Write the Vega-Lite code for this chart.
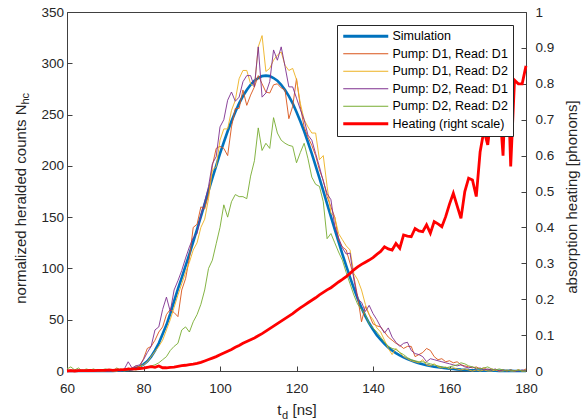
{
"$schema":"https://vega.github.io/schema/vega-lite/v6.json",
"width":459,"height":359,
"autosize":{"type":"none"},
"padding":{"left":67,"top":12,"right":61,"bottom":49},
"config":{"font":"Liberation Sans","view":{"stroke":"#404040","strokeWidth":1},
"axis":{"grid":false,"labelFlush":false,"labelOverlap":false,"domainColor":"#404040","tickColor":"#404040","labelColor":"#262626","titleColor":"#262626","labelFontSize":13.5,"titleFontSize":15,"titleFontWeight":"normal","labelFont":"Liberation Sans","titleFont":"Liberation Sans"}},
"data":{"values":[
{"t":60,"s":"S","v":0},{"t":61,"s":"S","v":0},{"t":62,"s":"S","v":0},{"t":63,"s":"S","v":0},{"t":64,"s":"S","v":0},{"t":65,"s":"S","v":0},{"t":66,"s":"S","v":0},{"t":67,"s":"S","v":0},{"t":68,"s":"S","v":0},{"t":69,"s":"S","v":0},{"t":70,"s":"S","v":0},{"t":71,"s":"S","v":0},{"t":72,"s":"S","v":0.1},{"t":73,"s":"S","v":0.2},{"t":74,"s":"S","v":0.4},{"t":75,"s":"S","v":0.7},{"t":76,"s":"S","v":1.1},{"t":77,"s":"S","v":1.8},{"t":78,"s":"S","v":2.8},{"t":79,"s":"S","v":4.3},{"t":80,"s":"S","v":6.5},{"t":81,"s":"S","v":9.5},{"t":82,"s":"S","v":14},{"t":83,"s":"S","v":20},{"t":84,"s":"S","v":27},{"t":85,"s":"S","v":36},{"t":86,"s":"S","v":45},{"t":87,"s":"S","v":56},{"t":88,"s":"S","v":68},{"t":89,"s":"S","v":80},{"t":90,"s":"S","v":91},{"t":91,"s":"S","v":102.4},{"t":92,"s":"S","v":114},{"t":93,"s":"S","v":126},{"t":94,"s":"S","v":138},{"t":95,"s":"S","v":150.5},{"t":96,"s":"S","v":163},{"t":97,"s":"S","v":175.7},{"t":98,"s":"S","v":188},{"t":99,"s":"S","v":200},{"t":100,"s":"S","v":212},{"t":101,"s":"S","v":223},{"t":102,"s":"S","v":233.7},{"t":103,"s":"S","v":243.5},{"t":104,"s":"S","v":252.6},{"t":105,"s":"S","v":261},{"t":106,"s":"S","v":268},{"t":107,"s":"S","v":274},{"t":108,"s":"S","v":279},{"t":109,"s":"S","v":283},{"t":110,"s":"S","v":285.6},{"t":111,"s":"S","v":287.5},{"t":112,"s":"S","v":288},{"t":113,"s":"S","v":287.5},{"t":114,"s":"S","v":285.6},{"t":115,"s":"S","v":283},{"t":116,"s":"S","v":279},{"t":117,"s":"S","v":274},{"t":118,"s":"S","v":268},{"t":119,"s":"S","v":261},{"t":120,"s":"S","v":252.6},{"t":121,"s":"S","v":243.5},{"t":122,"s":"S","v":233.7},{"t":123,"s":"S","v":223},{"t":124,"s":"S","v":212},{"t":125,"s":"S","v":200},{"t":126,"s":"S","v":188},{"t":127,"s":"S","v":175.7},{"t":128,"s":"S","v":163},{"t":129,"s":"S","v":150.5},{"t":130,"s":"S","v":138},{"t":131,"s":"S","v":126},{"t":132,"s":"S","v":114},{"t":133,"s":"S","v":102.4},{"t":134,"s":"S","v":91.2},{"t":135,"s":"S","v":80.5},{"t":136,"s":"S","v":70.5},{"t":137,"s":"S","v":61.5},{"t":138,"s":"S","v":53.5},{"t":139,"s":"S","v":46.5},{"t":140,"s":"S","v":40.5},{"t":141,"s":"S","v":35},{"t":142,"s":"S","v":30.5},{"t":143,"s":"S","v":26.5},{"t":144,"s":"S","v":23},{"t":145,"s":"S","v":20},{"t":146,"s":"S","v":17.4},{"t":147,"s":"S","v":15.2},{"t":148,"s":"S","v":13.3},{"t":149,"s":"S","v":11.6},{"t":150,"s":"S","v":10.1},{"t":151,"s":"S","v":8.8},{"t":152,"s":"S","v":7.6},{"t":153,"s":"S","v":6.6},{"t":154,"s":"S","v":5.7},{"t":155,"s":"S","v":4.9},{"t":156,"s":"S","v":4.2},{"t":157,"s":"S","v":3.6},{"t":158,"s":"S","v":3.1},{"t":159,"s":"S","v":2.6},{"t":160,"s":"S","v":2.2},{"t":161,"s":"S","v":1.9},{"t":162,"s":"S","v":1.6},{"t":163,"s":"S","v":1.3},{"t":164,"s":"S","v":1.1},{"t":165,"s":"S","v":0.9},{"t":166,"s":"S","v":0.8},{"t":167,"s":"S","v":0.6},{"t":168,"s":"S","v":0.5},{"t":169,"s":"S","v":0.4},{"t":170,"s":"S","v":0.3},{"t":171,"s":"S","v":0.25},{"t":172,"s":"S","v":0.2},{"t":173,"s":"S","v":0.15},{"t":174,"s":"S","v":0.1},{"t":175,"s":"S","v":0.1},{"t":176,"s":"S","v":0.1},{"t":177,"s":"S","v":0.05},{"t":178,"s":"S","v":0.05},{"t":179,"s":"S","v":0.05},{"t":180,"s":"S","v":0.05},
{"t":60,"s":"A","v":0},{"t":61,"s":"A","v":1},{"t":62,"s":"A","v":0},{"t":63,"s":"A","v":0},{"t":64,"s":"A","v":1},{"t":65,"s":"A","v":0},{"t":66,"s":"A","v":0},{"t":67,"s":"A","v":1},{"t":68,"s":"A","v":0},{"t":69,"s":"A","v":0},{"t":70,"s":"A","v":1},{"t":71,"s":"A","v":0},{"t":72,"s":"A","v":1},{"t":73,"s":"A","v":0},{"t":74,"s":"A","v":2},{"t":75,"s":"A","v":1},{"t":76,"s":"A","v":3},{"t":77,"s":"A","v":2},{"t":78,"s":"A","v":5},{"t":79,"s":"A","v":4},{"t":80,"s":"A","v":12},{"t":81,"s":"A","v":22},{"t":82,"s":"A","v":24},{"t":83,"s":"A","v":30},{"t":84,"s":"A","v":38},{"t":85,"s":"A","v":43},{"t":86,"s":"A","v":55},{"t":87,"s":"A","v":60},{"t":88,"s":"A","v":57},{"t":89,"s":"A","v":53},{"t":90,"s":"A","v":79},{"t":91,"s":"A","v":90},{"t":92,"s":"A","v":110},{"t":93,"s":"A","v":140},{"t":94,"s":"A","v":143},{"t":95,"s":"A","v":160},{"t":96,"s":"A","v":158},{"t":97,"s":"A","v":172},{"t":98,"s":"A","v":200},{"t":99,"s":"A","v":217},{"t":100,"s":"A","v":219},{"t":101,"s":"A","v":217},{"t":102,"s":"A","v":210},{"t":103,"s":"A","v":238},{"t":104,"s":"A","v":256},{"t":105,"s":"A","v":256},{"t":106,"s":"A","v":274},{"t":107,"s":"A","v":259},{"t":108,"s":"A","v":269},{"t":109,"s":"A","v":277},{"t":110,"s":"A","v":288},{"t":111,"s":"A","v":280},{"t":112,"s":"A","v":272},{"t":113,"s":"A","v":271},{"t":114,"s":"A","v":279},{"t":115,"s":"A","v":280},{"t":116,"s":"A","v":276},{"t":117,"s":"A","v":274},{"t":118,"s":"A","v":246},{"t":119,"s":"A","v":258},{"t":120,"s":"A","v":285},{"t":121,"s":"A","v":258},{"t":122,"s":"A","v":238},{"t":123,"s":"A","v":228},{"t":124,"s":"A","v":220},{"t":125,"s":"A","v":210},{"t":126,"s":"A","v":196},{"t":127,"s":"A","v":186},{"t":128,"s":"A","v":170},{"t":129,"s":"A","v":160},{"t":130,"s":"A","v":150},{"t":131,"s":"A","v":128},{"t":132,"s":"A","v":121},{"t":133,"s":"A","v":118},{"t":134,"s":"A","v":105},{"t":135,"s":"A","v":92},{"t":136,"s":"A","v":72},{"t":137,"s":"A","v":48},{"t":138,"s":"A","v":63},{"t":139,"s":"A","v":55},{"t":140,"s":"A","v":46},{"t":141,"s":"A","v":44},{"t":142,"s":"A","v":43},{"t":143,"s":"A","v":38},{"t":144,"s":"A","v":33},{"t":145,"s":"A","v":30},{"t":146,"s":"A","v":27},{"t":147,"s":"A","v":25},{"t":148,"s":"A","v":22},{"t":149,"s":"A","v":24},{"t":150,"s":"A","v":24},{"t":151,"s":"A","v":14},{"t":152,"s":"A","v":16},{"t":153,"s":"A","v":18},{"t":154,"s":"A","v":22},{"t":155,"s":"A","v":20},{"t":156,"s":"A","v":14},{"t":157,"s":"A","v":11},{"t":158,"s":"A","v":12},{"t":159,"s":"A","v":9},{"t":160,"s":"A","v":10},{"t":161,"s":"A","v":8},{"t":162,"s":"A","v":9},{"t":163,"s":"A","v":6},{"t":164,"s":"A","v":5},{"t":165,"s":"A","v":4},{"t":166,"s":"A","v":3},{"t":167,"s":"A","v":4},{"t":168,"s":"A","v":2},{"t":169,"s":"A","v":3},{"t":170,"s":"A","v":1},{"t":171,"s":"A","v":2},{"t":172,"s":"A","v":1},{"t":173,"s":"A","v":0},{"t":174,"s":"A","v":1},{"t":175,"s":"A","v":0},{"t":176,"s":"A","v":1},{"t":177,"s":"A","v":0},{"t":178,"s":"A","v":1},{"t":179,"s":"A","v":0},{"t":180,"s":"A","v":2},
{"t":60,"s":"B","v":0},{"t":61,"s":"B","v":0},{"t":62,"s":"B","v":1},{"t":63,"s":"B","v":0},{"t":64,"s":"B","v":0},{"t":65,"s":"B","v":1},{"t":66,"s":"B","v":0},{"t":67,"s":"B","v":0},{"t":68,"s":"B","v":1},{"t":69,"s":"B","v":0},{"t":70,"s":"B","v":0},{"t":71,"s":"B","v":1},{"t":72,"s":"B","v":0},{"t":73,"s":"B","v":0},{"t":74,"s":"B","v":1},{"t":75,"s":"B","v":2},{"t":76,"s":"B","v":1},{"t":77,"s":"B","v":3},{"t":78,"s":"B","v":2},{"t":79,"s":"B","v":4},{"t":80,"s":"B","v":6},{"t":81,"s":"B","v":9},{"t":82,"s":"B","v":14},{"t":83,"s":"B","v":19},{"t":84,"s":"B","v":24},{"t":85,"s":"B","v":30},{"t":86,"s":"B","v":40},{"t":87,"s":"B","v":50},{"t":88,"s":"B","v":62},{"t":89,"s":"B","v":74},{"t":90,"s":"B","v":85},{"t":91,"s":"B","v":96},{"t":92,"s":"B","v":106},{"t":93,"s":"B","v":118},{"t":94,"s":"B","v":125},{"t":95,"s":"B","v":140},{"t":96,"s":"B","v":148},{"t":97,"s":"B","v":168},{"t":98,"s":"B","v":196},{"t":99,"s":"B","v":199},{"t":100,"s":"B","v":225},{"t":101,"s":"B","v":236},{"t":102,"s":"B","v":236},{"t":103,"s":"B","v":254},{"t":104,"s":"B","v":264},{"t":105,"s":"B","v":285},{"t":106,"s":"B","v":293},{"t":107,"s":"B","v":293},{"t":108,"s":"B","v":280},{"t":109,"s":"B","v":277},{"t":110,"s":"B","v":316},{"t":111,"s":"B","v":327},{"t":112,"s":"B","v":292},{"t":113,"s":"B","v":295},{"t":114,"s":"B","v":303},{"t":115,"s":"B","v":308},{"t":116,"s":"B","v":311},{"t":117,"s":"B","v":298},{"t":118,"s":"B","v":293},{"t":119,"s":"B","v":295},{"t":120,"s":"B","v":284},{"t":121,"s":"B","v":261},{"t":122,"s":"B","v":245},{"t":123,"s":"B","v":238},{"t":124,"s":"B","v":232},{"t":125,"s":"B","v":232},{"t":126,"s":"B","v":206},{"t":127,"s":"B","v":210},{"t":128,"s":"B","v":180},{"t":129,"s":"B","v":154},{"t":130,"s":"B","v":150},{"t":131,"s":"B","v":134},{"t":132,"s":"B","v":128},{"t":133,"s":"B","v":122},{"t":134,"s":"B","v":118},{"t":135,"s":"B","v":95},{"t":136,"s":"B","v":89},{"t":137,"s":"B","v":79},{"t":138,"s":"B","v":65},{"t":139,"s":"B","v":55},{"t":140,"s":"B","v":50},{"t":141,"s":"B","v":42},{"t":142,"s":"B","v":38},{"t":143,"s":"B","v":30},{"t":144,"s":"B","v":22},{"t":145,"s":"B","v":16},{"t":146,"s":"B","v":22},{"t":147,"s":"B","v":18},{"t":148,"s":"B","v":14},{"t":149,"s":"B","v":12},{"t":150,"s":"B","v":10},{"t":151,"s":"B","v":9},{"t":152,"s":"B","v":8},{"t":153,"s":"B","v":11},{"t":154,"s":"B","v":6},{"t":155,"s":"B","v":5},{"t":156,"s":"B","v":7},{"t":157,"s":"B","v":4},{"t":158,"s":"B","v":3},{"t":159,"s":"B","v":4},{"t":160,"s":"B","v":2},{"t":161,"s":"B","v":3},{"t":162,"s":"B","v":2},{"t":163,"s":"B","v":1},{"t":164,"s":"B","v":2},{"t":165,"s":"B","v":1},{"t":166,"s":"B","v":0},{"t":167,"s":"B","v":1},{"t":168,"s":"B","v":0},{"t":169,"s":"B","v":1},{"t":170,"s":"B","v":0},{"t":171,"s":"B","v":0},{"t":172,"s":"B","v":1},{"t":173,"s":"B","v":0},{"t":174,"s":"B","v":0},{"t":175,"s":"B","v":1},{"t":176,"s":"B","v":0},{"t":177,"s":"B","v":0},{"t":178,"s":"B","v":1},{"t":179,"s":"B","v":0},{"t":180,"s":"B","v":0},
{"t":60,"s":"C","v":0},{"t":61,"s":"C","v":0},{"t":62,"s":"C","v":0},{"t":63,"s":"C","v":1},{"t":64,"s":"C","v":0},{"t":65,"s":"C","v":0},{"t":66,"s":"C","v":1},{"t":67,"s":"C","v":0},{"t":68,"s":"C","v":0},{"t":69,"s":"C","v":1},{"t":70,"s":"C","v":0},{"t":71,"s":"C","v":0},{"t":72,"s":"C","v":1},{"t":73,"s":"C","v":1},{"t":74,"s":"C","v":0},{"t":75,"s":"C","v":2},{"t":76,"s":"C","v":9},{"t":77,"s":"C","v":3},{"t":78,"s":"C","v":5},{"t":79,"s":"C","v":6},{"t":80,"s":"C","v":11},{"t":81,"s":"C","v":18},{"t":82,"s":"C","v":24},{"t":83,"s":"C","v":40},{"t":84,"s":"C","v":43},{"t":85,"s":"C","v":60},{"t":86,"s":"C","v":72},{"t":87,"s":"C","v":58},{"t":88,"s":"C","v":79},{"t":89,"s":"C","v":88},{"t":90,"s":"C","v":98},{"t":91,"s":"C","v":110},{"t":92,"s":"C","v":121},{"t":93,"s":"C","v":130},{"t":94,"s":"C","v":134},{"t":95,"s":"C","v":152},{"t":96,"s":"C","v":165},{"t":97,"s":"C","v":180},{"t":98,"s":"C","v":202},{"t":99,"s":"C","v":209},{"t":100,"s":"C","v":238},{"t":101,"s":"C","v":245},{"t":102,"s":"C","v":264},{"t":103,"s":"C","v":272},{"t":104,"s":"C","v":263},{"t":105,"s":"C","v":267},{"t":106,"s":"C","v":282},{"t":107,"s":"C","v":288},{"t":108,"s":"C","v":288},{"t":109,"s":"C","v":277},{"t":110,"s":"C","v":316},{"t":111,"s":"C","v":267},{"t":112,"s":"C","v":271},{"t":113,"s":"C","v":282},{"t":114,"s":"C","v":313},{"t":115,"s":"C","v":303},{"t":116,"s":"C","v":316},{"t":117,"s":"C","v":297},{"t":118,"s":"C","v":277},{"t":119,"s":"C","v":277},{"t":120,"s":"C","v":266},{"t":121,"s":"C","v":255},{"t":122,"s":"C","v":245},{"t":123,"s":"C","v":230},{"t":124,"s":"C","v":225},{"t":125,"s":"C","v":212},{"t":126,"s":"C","v":199},{"t":127,"s":"C","v":185},{"t":128,"s":"C","v":173},{"t":129,"s":"C","v":167},{"t":130,"s":"C","v":141},{"t":131,"s":"C","v":130},{"t":132,"s":"C","v":120},{"t":133,"s":"C","v":114},{"t":134,"s":"C","v":115},{"t":135,"s":"C","v":89},{"t":136,"s":"C","v":70},{"t":137,"s":"C","v":67},{"t":138,"s":"C","v":58},{"t":139,"s":"C","v":64},{"t":140,"s":"C","v":56},{"t":141,"s":"C","v":50},{"t":142,"s":"C","v":43},{"t":143,"s":"C","v":37},{"t":144,"s":"C","v":42},{"t":145,"s":"C","v":33},{"t":146,"s":"C","v":28},{"t":147,"s":"C","v":24},{"t":148,"s":"C","v":27},{"t":149,"s":"C","v":28},{"t":150,"s":"C","v":20},{"t":151,"s":"C","v":17},{"t":152,"s":"C","v":16},{"t":153,"s":"C","v":14},{"t":154,"s":"C","v":9},{"t":155,"s":"C","v":12},{"t":156,"s":"C","v":11},{"t":157,"s":"C","v":10},{"t":158,"s":"C","v":9},{"t":159,"s":"C","v":8},{"t":160,"s":"C","v":7},{"t":161,"s":"C","v":6},{"t":162,"s":"C","v":5},{"t":163,"s":"C","v":6},{"t":164,"s":"C","v":4},{"t":165,"s":"C","v":3},{"t":166,"s":"C","v":4},{"t":167,"s":"C","v":2},{"t":168,"s":"C","v":3},{"t":169,"s":"C","v":1},{"t":170,"s":"C","v":2},{"t":171,"s":"C","v":1},{"t":172,"s":"C","v":2},{"t":173,"s":"C","v":0},{"t":174,"s":"C","v":1},{"t":175,"s":"C","v":0},{"t":176,"s":"C","v":1},{"t":177,"s":"C","v":0},{"t":178,"s":"C","v":0},{"t":179,"s":"C","v":1},{"t":180,"s":"C","v":0},
{"t":60,"s":"G","v":2},{"t":61,"s":"G","v":4},{"t":62,"s":"G","v":1},{"t":63,"s":"G","v":3},{"t":64,"s":"G","v":0},{"t":65,"s":"G","v":2},{"t":66,"s":"G","v":1},{"t":67,"s":"G","v":2},{"t":68,"s":"G","v":0},{"t":69,"s":"G","v":1},{"t":70,"s":"G","v":2},{"t":71,"s":"G","v":1},{"t":72,"s":"G","v":0},{"t":73,"s":"G","v":3},{"t":74,"s":"G","v":1},{"t":75,"s":"G","v":0},{"t":76,"s":"G","v":1},{"t":77,"s":"G","v":2},{"t":78,"s":"G","v":1},{"t":79,"s":"G","v":2},{"t":80,"s":"G","v":3},{"t":81,"s":"G","v":4},{"t":82,"s":"G","v":5},{"t":83,"s":"G","v":6},{"t":84,"s":"G","v":8},{"t":85,"s":"G","v":11},{"t":86,"s":"G","v":14},{"t":87,"s":"G","v":20},{"t":88,"s":"G","v":24},{"t":89,"s":"G","v":27},{"t":90,"s":"G","v":40},{"t":91,"s":"G","v":43},{"t":92,"s":"G","v":38},{"t":93,"s":"G","v":48},{"t":94,"s":"G","v":55},{"t":95,"s":"G","v":65},{"t":96,"s":"G","v":79},{"t":97,"s":"G","v":100},{"t":98,"s":"G","v":108},{"t":99,"s":"G","v":124},{"t":100,"s":"G","v":140},{"t":101,"s":"G","v":162},{"t":102,"s":"G","v":150},{"t":103,"s":"G","v":165},{"t":104,"s":"G","v":172},{"t":105,"s":"G","v":170},{"t":106,"s":"G","v":170},{"t":107,"s":"G","v":168},{"t":108,"s":"G","v":190},{"t":109,"s":"G","v":205},{"t":110,"s":"G","v":237},{"t":111,"s":"G","v":215},{"t":112,"s":"G","v":222},{"t":113,"s":"G","v":217},{"t":114,"s":"G","v":247},{"t":115,"s":"G","v":232},{"t":116,"s":"G","v":225},{"t":117,"s":"G","v":222},{"t":118,"s":"G","v":220},{"t":119,"s":"G","v":219},{"t":120,"s":"G","v":203},{"t":121,"s":"G","v":213},{"t":122,"s":"G","v":222},{"t":123,"s":"G","v":207},{"t":124,"s":"G","v":189},{"t":125,"s":"G","v":182},{"t":126,"s":"G","v":180},{"t":127,"s":"G","v":165},{"t":128,"s":"G","v":129},{"t":129,"s":"G","v":134},{"t":130,"s":"G","v":125},{"t":131,"s":"G","v":116},{"t":132,"s":"G","v":108},{"t":133,"s":"G","v":96},{"t":134,"s":"G","v":85},{"t":135,"s":"G","v":74},{"t":136,"s":"G","v":65},{"t":137,"s":"G","v":60},{"t":138,"s":"G","v":55},{"t":139,"s":"G","v":46},{"t":140,"s":"G","v":42},{"t":141,"s":"G","v":38},{"t":142,"s":"G","v":33},{"t":143,"s":"G","v":28},{"t":144,"s":"G","v":24},{"t":145,"s":"G","v":22},{"t":146,"s":"G","v":21},{"t":147,"s":"G","v":18},{"t":148,"s":"G","v":16},{"t":149,"s":"G","v":13},{"t":150,"s":"G","v":11},{"t":151,"s":"G","v":10},{"t":152,"s":"G","v":9},{"t":153,"s":"G","v":9},{"t":154,"s":"G","v":8},{"t":155,"s":"G","v":7},{"t":156,"s":"G","v":6},{"t":157,"s":"G","v":5},{"t":158,"s":"G","v":4},{"t":159,"s":"G","v":3},{"t":160,"s":"G","v":4},{"t":161,"s":"G","v":5},{"t":162,"s":"G","v":6},{"t":163,"s":"G","v":8},{"t":164,"s":"G","v":7},{"t":165,"s":"G","v":5},{"t":166,"s":"G","v":4},{"t":167,"s":"G","v":3},{"t":168,"s":"G","v":2},{"t":169,"s":"G","v":3},{"t":170,"s":"G","v":4},{"t":171,"s":"G","v":2},{"t":172,"s":"G","v":1},{"t":173,"s":"G","v":2},{"t":174,"s":"G","v":1},{"t":175,"s":"G","v":0},{"t":176,"s":"G","v":1},{"t":177,"s":"G","v":0},{"t":178,"s":"G","v":1},{"t":179,"s":"G","v":0},{"t":180,"s":"G","v":0},
{"t":60,"s":"H","v":0},{"t":61,"s":"H","v":0.001},{"t":62,"s":"H","v":0},{"t":63,"s":"H","v":0.001},{"t":64,"s":"H","v":0.001},{"t":65,"s":"H","v":0.001},{"t":66,"s":"H","v":0.002},{"t":67,"s":"H","v":0.001},{"t":68,"s":"H","v":0.002},{"t":69,"s":"H","v":0.002},{"t":70,"s":"H","v":0.002},{"t":71,"s":"H","v":0.003},{"t":72,"s":"H","v":0.002},{"t":73,"s":"H","v":0.003},{"t":74,"s":"H","v":0.003},{"t":75,"s":"H","v":0.004},{"t":76,"s":"H","v":0.005},{"t":77,"s":"H","v":0.005},{"t":78,"s":"H","v":0.006},{"t":79,"s":"H","v":0.007},{"t":80,"s":"H","v":0.008},{"t":81,"s":"H","v":0.01},{"t":82,"s":"H","v":0.012},{"t":83,"s":"H","v":0.01},{"t":84,"s":"H","v":0.014},{"t":85,"s":"H","v":0.009},{"t":86,"s":"H","v":0.009},{"t":87,"s":"H","v":0.01},{"t":88,"s":"H","v":0.011},{"t":89,"s":"H","v":0.013},{"t":90,"s":"H","v":0.015},{"t":91,"s":"H","v":0.016},{"t":92,"s":"H","v":0.018},{"t":93,"s":"H","v":0.019},{"t":94,"s":"H","v":0.021},{"t":95,"s":"H","v":0.024},{"t":96,"s":"H","v":0.028},{"t":97,"s":"H","v":0.032},{"t":98,"s":"H","v":0.036},{"t":99,"s":"H","v":0.04},{"t":100,"s":"H","v":0.045},{"t":101,"s":"H","v":0.05},{"t":102,"s":"H","v":0.055},{"t":103,"s":"H","v":0.06},{"t":104,"s":"H","v":0.066},{"t":105,"s":"H","v":0.071},{"t":106,"s":"H","v":0.077},{"t":107,"s":"H","v":0.082},{"t":108,"s":"H","v":0.087},{"t":109,"s":"H","v":0.092},{"t":110,"s":"H","v":0.098},{"t":111,"s":"H","v":0.104},{"t":112,"s":"H","v":0.111},{"t":113,"s":"H","v":0.118},{"t":114,"s":"H","v":0.125},{"t":115,"s":"H","v":0.132},{"t":116,"s":"H","v":0.139},{"t":117,"s":"H","v":0.146},{"t":118,"s":"H","v":0.153},{"t":119,"s":"H","v":0.16},{"t":120,"s":"H","v":0.168},{"t":121,"s":"H","v":0.176},{"t":122,"s":"H","v":0.183},{"t":123,"s":"H","v":0.19},{"t":124,"s":"H","v":0.197},{"t":125,"s":"H","v":0.204},{"t":126,"s":"H","v":0.212},{"t":127,"s":"H","v":0.219},{"t":128,"s":"H","v":0.226},{"t":129,"s":"H","v":0.232},{"t":130,"s":"H","v":0.24},{"t":131,"s":"H","v":0.248},{"t":132,"s":"H","v":0.255},{"t":133,"s":"H","v":0.263},{"t":134,"s":"H","v":0.272},{"t":135,"s":"H","v":0.282},{"t":136,"s":"H","v":0.29},{"t":137,"s":"H","v":0.297},{"t":138,"s":"H","v":0.303},{"t":139,"s":"H","v":0.309},{"t":140,"s":"H","v":0.316},{"t":141,"s":"H","v":0.325},{"t":142,"s":"H","v":0.333},{"t":143,"s":"H","v":0.346},{"t":144,"s":"H","v":0.34},{"t":145,"s":"H","v":0.337},{"t":146,"s":"H","v":0.355},{"t":147,"s":"H","v":0.342},{"t":148,"s":"H","v":0.379},{"t":149,"s":"H","v":0.376},{"t":150,"s":"H","v":0.374},{"t":151,"s":"H","v":0.397},{"t":152,"s":"H","v":0.39},{"t":153,"s":"H","v":0.388},{"t":154,"s":"H","v":0.407},{"t":155,"s":"H","v":0.384},{"t":156,"s":"H","v":0.416},{"t":157,"s":"H","v":0.41},{"t":158,"s":"H","v":0.402},{"t":159,"s":"H","v":0.43},{"t":160,"s":"H","v":0.465},{"t":161,"s":"H","v":0.495},{"t":162,"s":"H","v":0.46},{"t":163,"s":"H","v":0.425},{"t":164,"s":"H","v":0.5},{"t":165,"s":"H","v":0.537},{"t":166,"s":"H","v":0.532},{"t":167,"s":"H","v":0.486},{"t":168,"s":"H","v":0.61},{"t":169,"s":"H","v":0.67},{"t":170,"s":"H","v":0.63},{"t":171,"s":"H","v":0.72},{"t":172,"s":"H","v":0.66},{"t":173,"s":"H","v":0.75},{"t":174,"s":"H","v":0.6},{"t":175,"s":"H","v":0.9},{"t":176,"s":"H","v":0.57},{"t":177,"s":"H","v":0.81},{"t":178,"s":"H","v":0.8},{"t":179,"s":"H","v":0.8},{"t":180,"s":"H","v":0.85}
]},
"layer":[
{"transform":[{"filter":"datum.s==='S'"}],
 "mark":{"type":"line","strokeWidth":2.6},
 "encoding":{
  "x":{"field":"t","type":"quantitative","scale":{"domain":[60,180],"nice":false,"zero":false},
   "axis":{"orient":"bottom","title":"d","labels":false,"ticks":false,"domain":false,"titleFontSize":11,"titleAlign":"left","titleBaseline":"alphabetic","titleX":214.5,"titleY":47}},
  "y":{"field":"v","type":"quantitative","scale":{"domain":[0,350],"nice":false},
   "axis":{"orient":"left","title":"hc","labels":false,"ticks":false,"domain":false,"titleFontSize":11,"titleAngle":-90,"titleAlign":"left","titleBaseline":"alphabetic","titleX":-39,"titleY":92}},
  "color":{"field":"s","type":"nominal",
   "scale":{"domain":["S","A","B","C","G","H"],"range":["#0072BD","#D95319","#EDB120","#7E2F8E","#77AC30","#FF0000"]},
   "legend":{"orient":"none","legendX":270,"legendY":13,"title":null,"symbolType":"stroke","symbolSize":2025,"labelFontSize":12.5,"labelFont":"Liberation Sans","labelColor":"#000000","fillColor":"white","strokeColor":"#262626","padding":5,"rowPadding":4.5,"labelOffset":20.5,"symbolOffset":17.5,
    "labelExpr":"{'S':'Simulation','A':'Pump: D1, Read: D1','B':'Pump: D1, Read: D2','C':'Pump: D2, Read: D1','G':'Pump: D2, Read: D2','H':'Heating (right scale)'}[datum.label]",
    "encode":{"symbols":{"update":{"strokeWidth":{"signal":"datum.value==='S'||datum.value==='H'?3:1"}}}}}}
 }},
{"transform":[{"filter":"datum.s!=='S'&&datum.s!=='H'"}],
 "mark":{"type":"line","strokeWidth":0.9},
 "encoding":{
  "x":{"field":"t","type":"quantitative","scale":{"domain":[60,180],"nice":false,"zero":false},
   "axis":{"orient":"bottom","title":"t","values":[60,80,100,120,140,160,180],"format":"d","tickSize":-5,"labelPadding":15,"titleAlign":"right","titleBaseline":"alphabetic","titleX":214,"titleY":43}},
  "y":{"field":"v","type":"quantitative","scale":{"domain":[0,350],"nice":false},
   "axis":{"orient":"left","title":"normalized heralded counts N","values":[0,50,100,150,200,250,300,350],"format":"d","tickSize":-5,"labelPadding":8.5,"titleAngle":-90,"titleAlign":"right","titleBaseline":"alphabetic","titleX":-42,"titleY":92}},
  "color":{"field":"s","type":"nominal"}
 }},
{"transform":[{"filter":"datum.s==='H'"}],
 "mark":{"type":"line","strokeWidth":2.8},
 "encoding":{
  "x":{"field":"t","type":"quantitative","scale":{"domain":[60,180],"nice":false,"zero":false},
   "axis":{"orient":"bottom","title":"[ns]","labels":false,"ticks":false,"domain":false,"titleAlign":"left","titleBaseline":"alphabetic","titleX":225,"titleY":43}},
  "y":{"field":"v","type":"quantitative","scale":{"domain":[0,1],"nice":false},
   "axis":{"orient":"right","title":"absorption heating [phonons]","values":[0,0.1,0.2,0.3,0.4,0.5,0.6,0.7,0.8,0.9,1],"format":".1~f","tickSize":-5,"labelPadding":14,"titleAngle":-90,"titleAlign":"center","titleBaseline":"alphabetic","titleX":50,"titleY":184.5}},
  "color":{"field":"s","type":"nominal"}
 }}
],
"resolve":{"scale":{"y":"independent"},"axis":{"x":"independent","y":"independent"}}
}
